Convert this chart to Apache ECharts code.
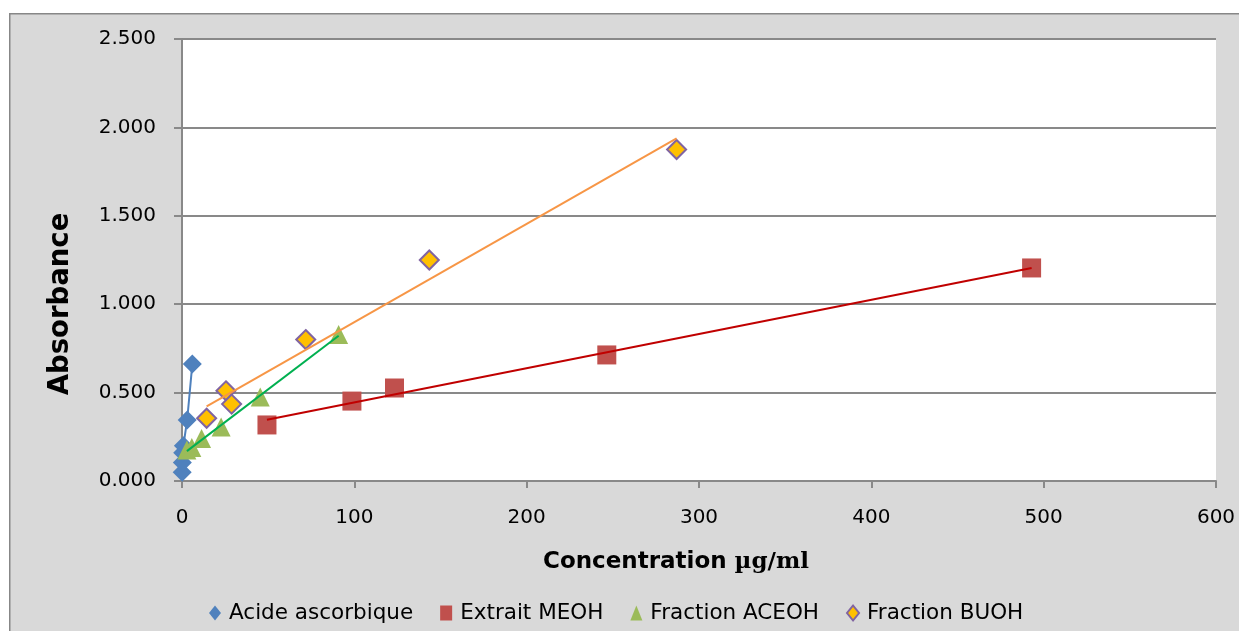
<!DOCTYPE html>
<html><head><meta charset="utf-8">
<script src="https://cdn.jsdelivr.net/npm/echarts@6/dist/echarts.min.js"></script>
<style>html,body{margin:0;padding:0;background:#fff;}#c{width:1239px;height:631px;}</style>
</head><body><div id="c"></div>
<script>
// ---- data ----
const seriesNames = ['Acide ascorbique', 'Extrait MEOH', 'Fraction ACEOH', 'Fraction BUOH'];
const ascorbicX = [0.1, 0.2, 0.4, 0.8, 3, 6];
const ascorbicY = [0.050, 0.105, 0.160, 0.200, 0.345, 0.662];
const meohX = [49.3, 98.6, 123.3, 246.5, 493];
const meohY = [0.317, 0.452, 0.526, 0.713, 1.205];
const aceohX = [2.84, 5.68, 11.36, 22.7, 45.4, 90.9];
const aceohY = [0.175, 0.190, 0.240, 0.305, 0.475, 0.828];
const buohX = [14.3, 25.5, 28.8, 71.8, 143.5, 287];
const buohY = [0.355, 0.510, 0.435, 0.800, 1.250, 1.875];
const xTicks = [0, 100, 200, 300, 400, 500, 600];
const yTicks = [0, 0.5, 1.0, 1.5, 2.0, 2.5];

function pairs(xs, ys) { return xs.map((x, i) => [x, ys[i]]); }
function trend(xs, ys) {
  const n = xs.length;
  const mx = xs.reduce((a, b) => a + b, 0) / n;
  const my = ys.reduce((a, b) => a + b, 0) / n;
  let sxy = 0, sxx = 0;
  for (let i = 0; i < n; i++) { sxy += (xs[i] - mx) * (ys[i] - my); sxx += (xs[i] - mx) ** 2; }
  const k = sxy / sxx, b = my - k * mx;
  const x0 = Math.min(...xs), x1 = Math.max(...xs);
  return [[x0, k * x0 + b], [x1, k * x1 + b]];
}

const FONT = 'DejaVu Sans';
const chart = echarts.init(document.getElementById('c'));
const lineCommon = { type: 'line', symbol: 'none', silent: true, z: 5, legendHoverLink: false, animation: false };
chart.setOption({
  animation: false,
  backgroundColor: 'transparent',
  graphic: [{
    type: 'rect', left: 9, top: 13, z: -10,
    shape: { width: 1260, height: 650 },
    style: { fill: '#d9d9d9', stroke: '#878787', lineWidth: 1.5 }
  }, {
    type: 'rect', left: 182, top: 39, z: -9,
    shape: { width: 1034, height: 442 },
    style: { fill: '#ffffff' }
  }, {
    type: 'text', x: 61, y: 304, rotation: Math.PI / 2, z: 10,
    style: { text: 'Absorbance', fontFamily: FONT, fontWeight: 'bold', fontSize: 27.5, fill: '#000',
      align: 'center', verticalAlign: 'middle' }
  }, {
    type: 'text', x: 676, y: 562, z: 10,
    style: {
      text: '{a|Concentration }{b|µg/ml}', align: 'center', verticalAlign: 'middle',
      rich: {
        a: { fontFamily: FONT, fontWeight: 'bold', fontSize: 23, fill: '#000' },
        b: { fontFamily: 'DejaVu Serif', fontWeight: 'bold', fontSize: 23, fill: '#000' }
      }
    }
  }],
  grid: { left: 182, right: 23, top: 39, bottom: 150 },
  legend: {
    left: 204, top: 597,
    itemWidth: 12, itemHeight: 15, itemGap: 27,
    textStyle: { fontFamily: FONT, fontSize: 21.5, color: '#000', padding: [0, 0, 0, 3] },
    data: [
      { name: seriesNames[0], icon: 'diamond' },
      { name: seriesNames[1], icon: 'rect' },
      { name: seriesNames[2], icon: 'triangle' },
      { name: seriesNames[3], icon: 'diamond' }
    ]
  },
  xAxis: {
    type: 'value', min: xTicks[0], max: xTicks[xTicks.length - 1], interval: xTicks[1] - xTicks[0],
    axisLine: { onZero: false, lineStyle: { color: '#898989', width: 2 } },
    axisTick: { show: true, length: 7, lineStyle: { color: '#898989', width: 2 } },
    axisLabel: { fontFamily: FONT, fontSize: 20, color: '#000', margin: 27 },
    splitLine: { show: false }
  },
  yAxis: {
    type: 'value', min: yTicks[0], max: yTicks[yTicks.length - 1], interval: yTicks[1] - yTicks[0],
    axisLine: { show: true, lineStyle: { color: '#898989', width: 2 } },
    axisTick: { show: true, length: 8, lineStyle: { color: '#898989', width: 2 } },
    axisLabel: { fontFamily: FONT, fontSize: 20, color: '#000', margin: 26, formatter: v => v.toFixed(3) },
    splitLine: { show: true, lineStyle: { color: '#898989', width: 2 } }
  },
  series: [
    { name: seriesNames[0], type: 'line', data: pairs(ascorbicX, ascorbicY),
      symbol: 'diamond', symbolSize: 19, z: 3,
      itemStyle: { color: '#4f81bd', opacity: 1 }, lineStyle: { color: '#4f81bd', width: 2 } },
    { name: seriesNames[1], type: 'scatter', data: pairs(meohX, meohY),
      symbol: 'rect', symbolSize: 19, z: 3, itemStyle: { color: '#c0504d', opacity: 1 } },
    { name: seriesNames[2], type: 'scatter', data: pairs(aceohX, aceohY),
      symbol: 'triangle', symbolSize: [19, 19], z: 3, itemStyle: { color: '#9bbb59', opacity: 1 } },
    { name: seriesNames[3], type: 'scatter', data: pairs(buohX, buohY),
      symbol: 'diamond', symbolSize: 19, z: 3,
      itemStyle: { color: '#ffc000', borderColor: '#8064a2', borderWidth: 2, opacity: 1 } },
    Object.assign({ name: 'trend MEOH', data: trend(meohX, meohY), lineStyle: { color: '#c00000', width: 2 } }, lineCommon),
    Object.assign({ name: 'trend ACEOH', data: trend(aceohX, aceohY), lineStyle: { color: '#00b050', width: 2 } }, lineCommon),
    Object.assign({ name: 'trend BUOH', data: trend(buohX, buohY), lineStyle: { color: '#f79646', width: 2 } }, lineCommon)
  ]
});
</script></body></html>
